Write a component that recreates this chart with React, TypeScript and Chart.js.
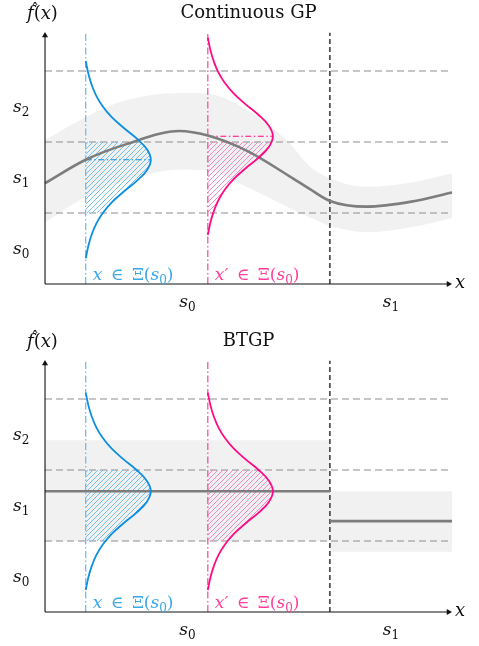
import React, { useEffect, useRef } from "react";
import { Chart, registerables } from "chart.js";
Chart.register(...registerables);

// ---------------- data ----------------
const gpX = [0, 1, 2, 3.3, 4, 5, 6, 6.5, 7, 7.9, 9, 10];
const gpMean = [1.42, 1.75, 1.97, 2.155, 2.09, 1.865, 1.52, 1.34, 1.17, 1.09, 1.16, 1.29];
const gpUpper = [2.03, 2.35, 2.59, 2.69, 2.68, 2.44, 1.99, 1.66, 1.49, 1.37, 1.43, 1.56];
const gpLower = [0.87, 1.23, 1.46, 1.61, 1.6, 1.356, 1.075, 0.94, 0.82, 0.73, 0.8, 0.93];

const btEdges = [0, 7, 10];
const btMean = [1.7, 1.28];
const btUpper = [2.42, 1.7];
const btLower = [1.0, 0.85];

const levelLines = [1, 2, 3];
const levelLabelPos = [0.5, 1.5, 2.5];
const levelLabels = ["0", "1", "2"];
const regionSplit = 7;
const regionLabelPos = [3.5, 8.5];
const regionLabels = ["0", "1"];
const axisXEnd = 10;
const axisYTop = 3.55;
const guideTop = 3.54;

const queryX = [1, 4];
const queryNames = ["x", "x\u2032"];
const gpQueryMean = [1.75, 2.08];
const btQueryMean = [1.7, 1.7];
const hatchBand = [1, 2];

// density profile: offset from mean (y units) -> width (x units)
const densityOffset = [0, 0.15, 0.3, 0.45, 0.6, 0.75, 0.9, 1.05, 1.2, 1.39];
const densityWidth = [1.6, 1.5, 1.25, 0.93, 0.64, 0.42, 0.26, 0.15, 0.07, 0];

// ---------------- styles ----------------
const BLUE = { curve: "#0b8ee3", guide: "#62b8ec", hatch: "#5fb6ec", text: "#3aa7e6" };
const PINK = { curve: "#ff0a86", guide: "#f2479b", hatch: "#f779bb", text: "#ff3d9a" };
const COLORS = [BLUE, PINK];
const GRAY = "#7d7d7d";
const BAND = "#f1f1f1";
const DASH = "#8e8e8e";
const SERIF = '"DejaVu Serif"';

function widthAt(d: number) {
  const a = Math.abs(d);
  for (let i = 1; i < densityOffset.length; i++) {
    if (a <= densityOffset[i]) {
      const t = (a - densityOffset[i - 1]) / (densityOffset[i] - densityOffset[i - 1]);
      return densityWidth[i - 1] + t * (densityWidth[i] - densityWidth[i - 1]);
    }
  }
  return 0;
}

function curvePoints(xb: number, mu: number) {
  const pts: { x: number; y: number }[] = [];
  for (let i = densityOffset.length - 1; i >= 0; i--) pts.push({ x: xb + densityWidth[i], y: mu + densityOffset[i] });
  for (let i = 1; i < densityOffset.length; i++) pts.push({ x: xb + densityWidth[i], y: mu - densityOffset[i] });
  return pts;
}

function hatchPoints(xb: number, mu: number, lo: number, hi: number) {
  const pts = [{ x: xb + widthAt(hi - mu), y: hi }];
  curvePoints(xb, mu).forEach((p) => {
    if (p.y < hi - 1e-6 && p.y > lo + 1e-6) pts.push(p);
  });
  pts.push({ x: xb + widthAt(lo - mu), y: lo });
  return pts;
}

function makeHatch(color: string) {
  const s = 5;
  const c = document.createElement("canvas");
  c.width = s;
  c.height = s;
  const g = c.getContext("2d")!;
  g.strokeStyle = color;
  g.lineWidth = 0.85;
  g.beginPath();
  g.moveTo(0, s);
  g.lineTo(s, 0);
  g.moveTo(-1, 1);
  g.lineTo(1, -1);
  g.moveTo(s - 1, s + 1);
  g.lineTo(s + 1, s - 1);
  g.stroke();
  return g.createPattern(c, "repeat")!;
}

function seg(points: any[], extra: any) {
  return { data: points, pointRadius: 0, borderWidth: 1, fill: false, tension: 0, ...extra };
}

type Part = { t: string; i?: boolean; size: number; dy?: number };
function drawParts(ctx: CanvasRenderingContext2D, parts: Part[], x: number, y: number, align: "left" | "center", color: string) {
  ctx.save();
  ctx.fillStyle = color;
  ctx.textBaseline = "alphabetic";
  ctx.textAlign = "left";
  const fonts = parts.map((p) => `${p.i ? "italic " : ""}${p.size}px ${SERIF}`);
  const widths = parts.map((p, k) => {
    ctx.font = fonts[k];
    return ctx.measureText(p.t).width;
  });
  const total = widths.reduce((a, b) => a + b, 0);
  let cx = align === "center" ? x - total / 2 : x;
  parts.forEach((p, k) => {
    ctx.font = fonts[k];
    ctx.fillText(p.t, cx, y + (p.dy || 0));
    cx += widths[k];
  });
  ctx.restore();
}

const sSub = (n: string): Part[] => [
  { t: "s", i: true, size: 17 },
  { t: n, size: 12, dy: 4 },
];

function textPlugin(title: string) {
  return {
    id: "texts",
    afterDraw(chart: any) {
      const ctx = chart.ctx as CanvasRenderingContext2D;
      const xs = chart.scales.x;
      const ys = chart.scales.y;
      const px = (v: number) => xs.getPixelForValue(v);
      const py = (v: number) => ys.getPixelForValue(v);
      const top = chart.chartArea.top;
      drawParts(ctx, [{ t: title, size: 18 }], px(5), top + 18, "center", "#111");
      // f-hat(x)
      drawParts(
        ctx,
        [
          { t: "f", i: true, size: 18 },
          { t: "(", size: 18 },
          { t: "x", i: true, size: 18 },
          { t: ")", size: 18 },
        ],
        px(0) - 18,
        top + 19,
        "left",
        "#111"
      );
      drawParts(ctx, [{ t: "\u02C6", size: 16 }], px(0) - 14, top + 15, "left", "#111");
      levelLabelPos.forEach((v, k) => drawParts(ctx, sSub(levelLabels[k]), px(0) - 32, py(v) + 5.5, "left", "#111"));
      regionLabelPos.forEach((v, k) => drawParts(ctx, sSub(regionLabels[k]), px(v), py(0) + 23, "center", "#111"));
      drawParts(ctx, [{ t: "x", i: true, size: 18 }], px(axisXEnd) + 3, py(0) + 4, "left", "#111");
      queryX.forEach((xb, k) =>
        drawParts(
          ctx,
          [
            { t: queryNames[k], i: true, size: 17 },
            { t: "\u2002\u2208\u2002\u039E(", size: 17 },
            { t: "s", i: true, size: 17 },
            { t: "0", size: 12, dy: 4 },
            { t: ")", size: 17 },
          ],
          px(xb) + 7,
          py(0) - 4,
          "left",
          COLORS[k].text
        )
      );
    },
  };
}

function commonDatasets(means: number[], withMeanLines: boolean) {
  const ds: any[] = [];
  levelLines.forEach((v) =>
    ds.push(seg([{ x: 0, y: v }, { x: axisXEnd, y: v }], { borderColor: DASH, borderWidth: 1.1, borderDash: [7, 4], order: 18 }))
  );
  queryX.forEach((xb, k) => {
    ds.push(
      seg(hatchPoints(xb, means[k], hatchBand[0], hatchBand[1]), {
        indexAxis: "y",
        borderWidth: 0,
        borderColor: "rgba(0,0,0,0)",
        backgroundColor: makeHatch(COLORS[k].hatch),
        fill: { value: xb },
        tension: 0.4,
        order: 16,
      })
    );
    ds.push(
      seg([{ x: xb, y: 0 }, { x: xb, y: guideTop }], {
        borderColor: COLORS[k].guide,
        borderWidth: 1.2,
        borderDash: [7, 2.5, 1.5, 2.5],
        order: 14,
      })
    );
    if (withMeanLines)
      ds.push(
        seg([{ x: xb, y: means[k] }, { x: xb + densityWidth[0], y: means[k] }], {
          borderColor: COLORS[k].curve,
          borderWidth: 1.1,
          borderDash: [6, 2.5, 1.5, 2.5],
          order: 13,
        })
      );
    ds.push(
      seg(curvePoints(xb, means[k]), {
        indexAxis: "y",
        borderColor: COLORS[k].curve,
        borderWidth: 1.8,
        tension: 0.4,
        order: 6,
      })
    );
  });
  ds.push(
    seg([{ x: regionSplit, y: 0 }, { x: regionSplit, y: guideTop }], {
      borderColor: "#1a1a1a",
      borderWidth: 1.3,
      borderDash: [5, 3],
      order: 14,
    })
  );
  // axes
  ds.push(seg([{ x: 0, y: 0 }, { x: axisXEnd - 0.08, y: 0 }], { borderColor: "#111", borderWidth: 1.1, order: 2 }));
  ds.push(seg([{ x: 0, y: 0 }, { x: 0, y: axisYTop - 0.05 }], { borderColor: "#111", borderWidth: 1.1, order: 2 }));
  ds.push({
    data: [{ x: axisXEnd - 3.5 / 40.7, y: 0 }],
    showLine: false,
    pointRadius: 3.5,
    pointStyle: "triangle",
    pointRotation: 90,
    pointBackgroundColor: "#111",
    pointBorderWidth: 0,
    order: 1,
  });
  ds.push({
    data: [{ x: 0, y: axisYTop - 3.5 / 71 }],
    showLine: false,
    pointRadius: 3.5,
    pointStyle: "triangle",
    pointRotation: 0,
    pointBackgroundColor: "#111",
    pointBorderWidth: 0,
    order: 1,
  });
  return ds;
}

function gpDatasets() {
  const ds: any[] = [];
  ds.push(
    seg(gpX.map((x, i) => ({ x, y: gpUpper[i] })), {
      borderWidth: 0,
      borderColor: "rgba(0,0,0,0)",
      backgroundColor: BAND,
      fill: "+1",
      cubicInterpolationMode: "monotone",
      order: 20,
    })
  );
  ds.push(
    seg(gpX.map((x, i) => ({ x, y: gpLower[i] })), {
      borderWidth: 0,
      borderColor: "rgba(0,0,0,0)",
      cubicInterpolationMode: "monotone",
      order: 20,
    })
  );
  ds.push(
    seg(gpX.map((x, i) => ({ x, y: gpMean[i] })), {
      borderColor: GRAY,
      borderWidth: 2.6,
      cubicInterpolationMode: "monotone",
      order: 8,
    })
  );
  return ds.concat(commonDatasets(gpQueryMean, true));
}

function btDatasets() {
  const ds: any[] = [];
  btMean.forEach((m, j) => {
    const a = btEdges[j];
    const b = btEdges[j + 1];
    ds.push(
      seg([{ x: a, y: btUpper[j] }, { x: b, y: btUpper[j] }], {
        borderWidth: 0,
        borderColor: "rgba(0,0,0,0)",
        backgroundColor: BAND,
        fill: "+1",
        order: 20,
      })
    );
    ds.push(seg([{ x: a, y: btLower[j] }, { x: b, y: btLower[j] }], { borderWidth: 0, borderColor: "rgba(0,0,0,0)", order: 20 }));
    ds.push(seg([{ x: a, y: m }, { x: b, y: m }], { borderColor: GRAY, borderWidth: 2.6, order: 8 }));
  });
  return ds.concat(commonDatasets(btQueryMean, false));
}

function makeConfig(datasets: any[], title: string): any {
  return {
    type: "line",
    data: { datasets },
    options: {
      responsive: false,
      animation: false,
      events: [],
      layout: { padding: 0, autoPadding: false },
      scales: {
        x: { type: "linear", min: -1.106, max: 10.663, display: false },
        y: { type: "linear", min: -0.479, max: 4.0, display: false },
      },
      plugins: { legend: { display: false }, tooltip: { enabled: false } },
      elements: { point: { radius: 0 } },
    },
    plugins: [textPlugin(title)],
  };
}

function Panel({ top, build }: { top: number; build: () => any }) {
  const ref = useRef<HTMLCanvasElement>(null);
  useEffect(() => {
    const chart = new Chart(ref.current!, build());
    return () => chart.destroy();
  }, []);
  return (
    <canvas
      ref={ref}
      width={479}
      height={318}
      style={{ position: "absolute", left: 0, top, width: 479, height: 318 }}
    />
  );
}

export default function App() {
  return (
    <div style={{ position: "fixed", left: 0, top: 0, width: 479, height: 646, background: "#fff" }}>
      <Panel top={0} build={() => makeConfig(gpDatasets(), "Continuous GP")} />
      <Panel top={328} build={() => makeConfig(btDatasets(), "BTGP")} />
    </div>
  );
}
